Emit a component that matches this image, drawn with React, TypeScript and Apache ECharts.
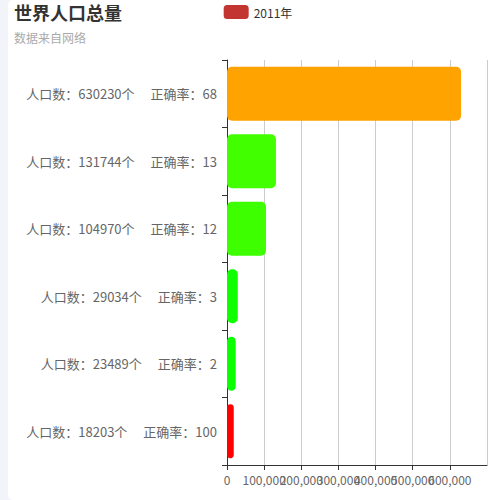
import React, { useEffect, useRef } from 'react';
import * as echarts from 'echarts';

const population = [18203, 23489, 29034, 104970, 131744, 630230];
const correctRate = [100, 2, 3, 12, 13, 68];
const xTicks = [0, 100000, 200000, 300000, 400000, 500000, 600000, 700000];

const FONT = '"Noto Sans CJK SC", "Noto Sans", sans-serif';

const App: React.FC = () => {
  const chartRef = useRef<HTMLDivElement>(null);

  useEffect(() => {
    document.body.style.margin = '0';
    document.body.style.background = '#f3f4f9';
    if (!chartRef.current) return;
    const chart = echarts.init(chartRef.current, undefined, { renderer: 'svg' });

    const source = population.map((p, i) => [p, i, correctRate[i]]);
    const categories = population.map((p, i) => `人口数：${p}个    正确率：${correctRate[i]}`);

    chart.setOption({
      animation: false,
      textStyle: { fontFamily: FONT },
      title: {
        text: '世界人口总量',
        subtext: '数据来自网络',
        left: 1,
        top: -2,
        itemGap: 10,
        textStyle: { fontSize: 18, lineHeight: 18, fontWeight: 'bold', color: '#333', fontFamily: FONT },
        subtextStyle: { fontSize: 12, lineHeight: 12, color: '#aaa', fontFamily: FONT }
      },
      legend: {
        left: 'center',
        top: 0,
        data: ['2011年'],
        itemWidth: 25,
        itemHeight: 14,
        textStyle: { fontSize: 12, color: '#333', fontFamily: FONT }
      },
      visualMap: {
        show: false,
        type: 'continuous',
        dimension: 2,
        min: 0,
        max: 100,
        inRange: { color: ['#00ff00', '#ffff00', '#ff0000'] }
      },
      grid: { left: 219, right: 21, top: 60, bottom: 35 },
      xAxis: {
        type: 'value',
        min: xTicks[0],
        max: xTicks[xTicks.length - 1],
        interval: xTicks[1] - xTicks[0],
        axisLine: { show: true, lineStyle: { color: '#333' } },
        axisTick: { show: true, lineStyle: { color: '#333' } },
        axisLabel: { color: '#666', fontSize: 12, showMaxLabel: false, fontFamily: FONT },
        splitLine: { show: true, lineStyle: { color: '#ccc' } }
      },
      yAxis: {
        type: 'category',
        data: categories,
        axisLine: { show: true, lineStyle: { color: '#333' } },
        axisTick: { show: true, lineStyle: { color: '#333' } },
        axisLabel: {
          color: '#666',
          fontSize: 13,
          margin: 10,
          fontFamily: FONT,
          formatter: (v: string) => {
            const [a, b] = v.split('    ');
            return `{t|${a}}{g|}{t|${b}}`;
          },
          rich: {
            t: { color: '#666', fontSize: 13, fontFamily: FONT },
            g: { width: 16 }
          }
        },
        splitLine: { show: false }
      },
      dataset: { source },
      series: [
        {
          name: '2011年',
          type: 'bar',
          encode: { x: 0, y: 1 },
          barWidth: '80%',
          itemStyle: { color: '#c23531', borderRadius: 5 }
        }
      ]
    });

    return () => {
      chart.dispose();
    };
  }, []);

  return (
    <div
      style={{
        marginLeft: 8,
        width: 500,
        height: 500,
        background: '#fff',
        borderRadius: 5,
        overflow: 'hidden'
      }}
    >
      <div ref={chartRef} style={{ width: 500, height: 500 }} />
    </div>
  );
};

export default App;
